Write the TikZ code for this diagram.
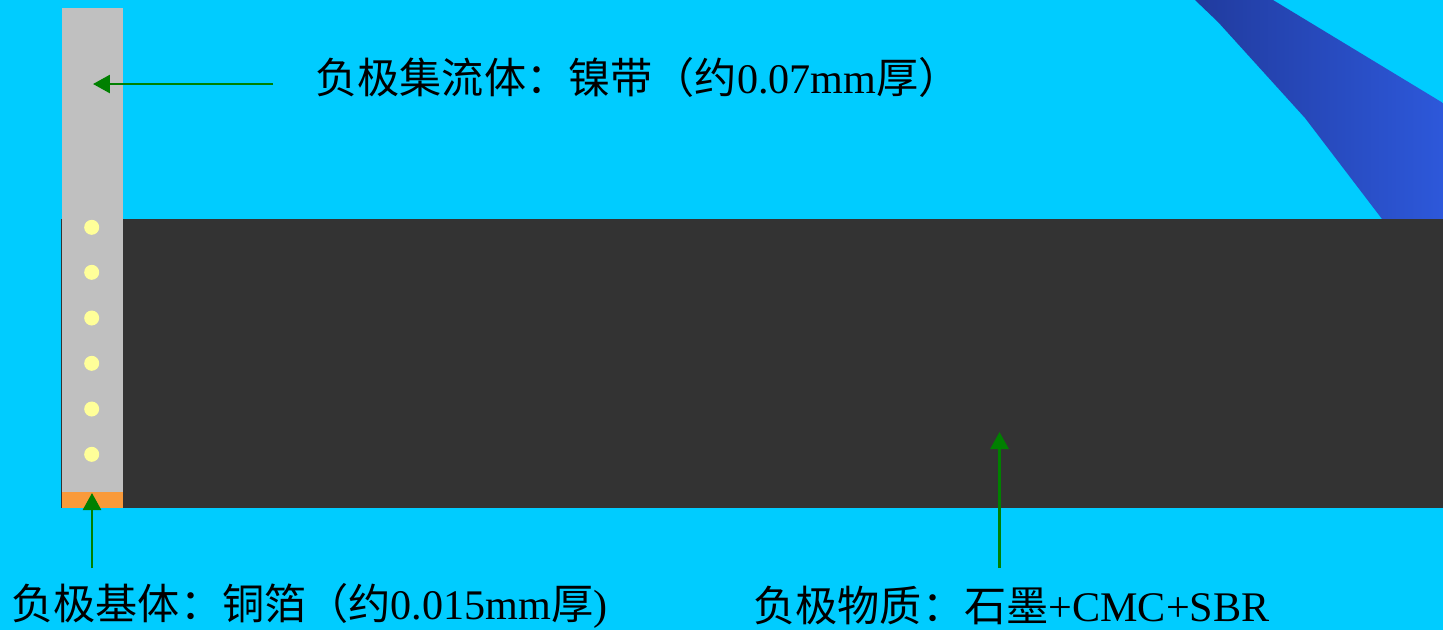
\documentclass[tikz,border=0pt]{standalone}
\usepackage{fontspec}
\setmainfont{Liberation Serif}
\newfontfamily\cjk{Noto Sans CJK SC}
\usetikzlibrary{arrows.meta}

\definecolor{sky}{HTML}{00CCFF}
\definecolor{graphite}{HTML}{333333}
\definecolor{nickel}{HTML}{C0C0C0}
\definecolor{copper}{HTML}{F99A3A}
\definecolor{weld}{HTML}{FFFF99}
\definecolor{bandl}{HTML}{213B9E}
\definecolor{bandr}{HTML}{2D58DA}
\definecolor{pointer}{HTML}{008000}

\tikzset{
	callout/.style={draw=pointer, line width=1.6pt,
		-{Triangle[length=0.34cm, width=0.36cm]}},
	label/.style={anchor=base west, inner sep=0pt,
		font=\fontsize{24}{28}\selectfont}
}

\begin{document}
\begin{tikzpicture}[x=0.02cm, y=-0.02cm]

	\def\dotr{7.5}

	\fill[sky] (0,0) rectangle (1443,630);
	\useasboundingbox (0,0) rectangle (1443,630);

	\shade[left color=bandl, right color=bandr] (1195,0) -- (1218,22)
		-- (1305,118) -- (1382,219) -- (1443,219) -- (1443,103)
		-- (1273,0) -- cycle;

	\fill[graphite] (61,219) rectangle (1443,508);

	\fill[nickel] (62,8) rectangle (123,492);
	\fill[copper] (62,492) rectangle (123,508);

	\fill[weld] (91.7,227.3) circle (\dotr);
	\fill[weld] (91.7,272.3) circle (\dotr);
	\fill[weld] (91.7,318) circle (\dotr);
	\fill[weld] (91.7,363.3) circle (\dotr);
	\fill[weld] (91.7,409) circle (\dotr);
	\fill[weld] (91.7,454.3) circle (\dotr);

	\coordinate (tab) at (93,84);
	\coordinate (tabtail) at (273,84);
	\coordinate (foil) at (92,493);
	\coordinate (foiltail) at (92,568);
	\coordinate (coat) at (999.5,432);
	\coordinate (coattail) at (999.5,568);

	\node[label] (tablabel) at (315,93)
		{{\cjk 负极集流体：镍带（约}0.07mm{\cjk 厚）}};
	\node[label] (foillabel) at (11,619)
		{{\cjk 负极基体：铜箔（约}0.015mm{\cjk 厚})};
	\node[label] (coatlabel) at (753,621)
		{{\cjk 负极物质：石墨}+CMC+SBR};

	\draw[callout] (tabtail) -- (tab);
	\draw[callout] (foiltail) -- (foil);
	\draw[callout] (coattail) -- (coat);

\end{tikzpicture}
\end{document}
